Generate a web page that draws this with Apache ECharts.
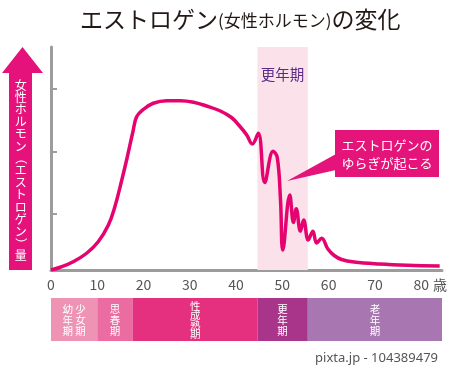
<!DOCTYPE html>
<html>
<head>
<meta charset="utf-8">
<script src="https://cdn.jsdelivr.net/npm/echarts@6/dist/echarts.min.js"></script>
<style>
html,body{margin:0;padding:0;background:#fff;}
#c{width:450px;height:369px;}
</style>
</head>
<body>
<div id="c"></div>
<script>
// ---- data ----
var ages = [0, 2, 4.8, 7.7, 10.2, 12.4, 13.8, 15.3, 16.5, 17.7, 18.5, 20, 22.1, 25, 28, 30.8, 33.6, 36.5, 39, 40.8, 42.3, 43.5,
  44.8, 46.2, 48.0, 48.9, 49.6, 50.1, 51.6, 52.4, 53.0, 53.9, 54.6, 55.6, 56.6, 57.4, 58.5, 59.8, 61.2, 62.8, 65.5, 71, 77, 84];
var levels = [0, 1.1, 3.3, 6.7, 11.3, 18, 25.3, 36, 45.3, 55.3, 61.3, 64.3, 66.7, 67.7, 67.7, 67.1, 65.6, 63.7, 61, 57.5, 54, 50.4,
  54.7, 35, 47.5, 45, 28, 8, 30, 19, 24.5, 15.5, 20, 12, 15.5, 10.8, 12.7, 8.5, 5.8, 4.2, 3.2, 2.4, 1.9, 1.6];
var xTicks = [0, 10, 20, 30, 40, 50, 60, 70, 80];
var yTickValues = [22.4, 47.2, 72.4];
var menopauseRange = [44.6, 55.5];
var phaseStarts = [0, 10, 17.7, 44.6, 55.5];
var phaseEnds = [10, 17.7, 44.6, 55.5, 84.5];
var phaseNames = ['幼年期|少女期', '思春期', '性成熟期', '更年期', '老年期'];
var yAxisTitle = '女性ホルモン(エストロゲン)量';

// ---- styles ----
var phaseColors = ['#ef93b5', '#ea6ca0', '#e4307f', '#a8358a', '#a877b1'];
var lineColor = '#e5046f';
var FONT = '"Noto Sans CJK JP", "Noto Sans", sans-serif';

var chart = echarts.init(document.getElementById('c'), null, {renderer: 'canvas'});

function verticalText(name) {
  var cols = name.split('|');
  var n = cols[0].length;
  var lines = [];
  for (var r = 0; r < n; r++) {
    lines.push(cols.map(function (c) { return c.charAt(r); }).join(' '));
  }
  return {text: lines.join('\n'), n: n};
}

// vertical y-axis title, one glyph per row, brackets rotated
var yTitleChars = yAxisTitle.split('');
var yTitleStep = 12.2;
var yTitleTop = 170.5 - (yTitleChars.length - 1) * yTitleStep / 2;
var yTitleEls = yTitleChars.map(function (ch, i) {
  var isBr = ch === '(' || ch === ')';
  return {
    type: 'text', x: 20.7, y: yTitleTop + i * yTitleStep,
    rotation: isBr ? -Math.PI / 2 : 0,
    style: {
      text: isBr ? (ch === '(' ? '（' : '）') : ch,
      fill: '#fff', fontSize: 12, align: 'center', verticalAlign: 'middle', fontFamily: FONT
    }
  };
});

var lineData = ages.map(function (a, i) { return [a, levels[i]]; });
var phaseData = phaseStarts.map(function (s, i) { return [s, phaseEnds[i]]; });

var option = {
  animation: false,
  textStyle: {fontFamily: FONT},
  grid: [
    {left: 51, right: 8, top: 47, bottom: 99, containLabel: false},
    {left: 51, right: 8, top: 298, height: 43, containLabel: false}
  ],
  xAxis: [
    {
      type: 'value', gridIndex: 0, min: 0, max: 84.5, interval: 10,
      axisLine: {show: true, lineStyle: {color: '#9c9c9c', width: 3}},
      axisTick: {show: false},
      splitLine: {show: false},
      axisLabel: {
        color: '#555', fontSize: 14, margin: 8, fontFamily: FONT,
        showMaxLabel: false,
        formatter: function (v) { return xTicks.indexOf(v) >= 0 ? String(v) : ''; }
      }
    },
    {type: 'value', gridIndex: 1, min: 0, max: 84.5, show: false}
  ],
  yAxis: [
    {
      type: 'value', gridIndex: 0, min: 0, max: 89.2,
      axisLine: {show: true, lineStyle: {color: '#9c9c9c', width: 3}},
      axisTick: {show: true, inside: true, length: 6, customValues: yTickValues, lineStyle: {color: '#9c9c9c', width: 2}},
      axisLabel: {show: false},
      splitLine: {show: false}
    },
    {type: 'value', gridIndex: 1, min: 0, max: 1, show: false}
  ],
  graphic: [
    {
      type: 'text', left: 80, top: 8,
      style: {
        rich: {
          a: {fontSize: 23, fill: '#231815', fontFamily: FONT},
          b: {fontSize: 17, fill: '#231815', fontFamily: FONT, padding: [2, 0, 0, 0]}
        },
        text: '{a|エストロゲン}{b|(女性ホルモン)}{a|の変化}'
      }
    },
    {
      type: 'polygon',
      shape: {points: [[22.5, 47], [43, 73], [32, 73], [32, 270], [9, 270], [9, 73], [2, 73]]},
      style: {fill: '#e4127a'}
    },
    {type: 'group', children: yTitleEls},
    {
      type: 'text', x: 433, y: 285,
      style: {text: '歳', fill: '#555', fontSize: 14, verticalAlign: 'middle', fontFamily: FONT}
    },
    {
      type: 'polygon', z: 10,
      shape: {points: [[336, 154], [336, 170], [287, 181]]},
      style: {fill: '#e4147a'}
    },
    {
      type: 'rect', z: 10,
      shape: {x: 335, y: 130, width: 104, height: 47},
      style: {fill: '#e4147a'}
    },
    {
      type: 'text', z: 11, x: 387, y: 154,
      style: {
        text: 'エストロゲンの\nゆらぎが起こる', fill: '#fff', fontSize: 13, lineHeight: 18,
        align: 'center', verticalAlign: 'middle', fontFamily: FONT
      }
    },
    {
      type: 'text', right: 12, top: 352,
      style: {text: 'pixta.jp - 104389479', fill: '#555', fontSize: 13, fontFamily: '"Noto Sans", sans-serif'}
    }
  ],
  series: [
    {
      type: 'line', xAxisIndex: 0, yAxisIndex: 0,
      data: lineData,
      smooth: 0.4,
      showSymbol: false,
      lineStyle: {color: lineColor, width: 3.5},
      z: 5,
      markArea: {
        silent: true,
        itemStyle: {color: '#fbe2ea'},
        label: {
          show: true, position: 'insideTop', distance: 20,
          color: '#5a2a88', fontSize: 14.5, fontFamily: FONT
        },
        data: [[{xAxis: menopauseRange[0], name: '更年期'}, {xAxis: menopauseRange[1]}]]
      }
    },
    {
      type: 'custom', xAxisIndex: 1, yAxisIndex: 1,
      data: phaseData,
      renderItem: function (params, api) {
        var i = params.dataIndex;
        var p0 = api.coord([api.value(0), 1]);
        var p1 = api.coord([api.value(1), 0]);
        var vt = verticalText(phaseNames[i]);
        var lh = Math.min(11, 37 / vt.n);
        return {
          type: 'group',
          children: [
            {type: 'rect', shape: {x: p0[0], y: p0[1], width: p1[0] - p0[0], height: p1[1] - p0[1]}, style: {fill: phaseColors[i]}},
            {type: 'text', x: (p0[0] + p1[0]) / 2, y: (p0[1] + p1[1]) / 2 + 0.5,
              style: {text: vt.text, fill: '#fff', fontSize: 10.5, lineHeight: lh, align: 'center', verticalAlign: 'middle', fontFamily: FONT}}
          ]
        };
      }
    }
  ]
};
chart.setOption(option);
</script>
</body>
</html>
